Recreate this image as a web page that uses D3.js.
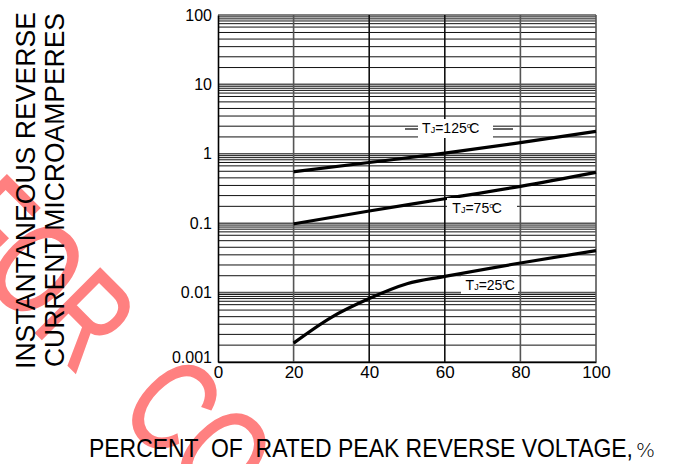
<!DOCTYPE html>
<html>
<head>
<meta charset="utf-8">
<script src="https://cdn.jsdelivr.net/npm/d3@7"></script>
<style>
  body { margin: 0; background: #fff; }
  svg { display: block; font-family: "Liberation Sans", Arial, sans-serif; }
</style>
</head>
<body>
<div id="chart"></div>
<script>
// percent of rated peak reverse voltage
var xTicks = [0, 20, 40, 60, 80, 100];
var yTicks = [0.001, 0.01, 0.1, 1, 10, 100];
var yTickLabels = ["0.001", "0.01", "0.1", "1", "10", "100"];
// the minor grid lines inside one decade (as drawn on the sheet)
var gridSteps = [1.75, 2.5, 3.5, 4.5, 5.6, 6.7, 7.5, 8.2, 8.8, 9.4];

var pct = [20, 40, 60, 80, 100];
var tj125 = [0.55, 0.75, 1.02, 1.45, 2.1];
var tj75 = [0.098, 0.15, 0.225, 0.34, 0.54];
var pct25 = [20, 30, 40, 50, 60, 80, 100];
var tj25 = [0.00187, 0.0044, 0.0082, 0.0134, 0.0171, 0.0267, 0.0403];

var width = 673, height = 464;

var svg = d3.select('#chart').append('svg')
    .attr('width', width)
    .attr('height', height);

svg.append('rect').attr('width', width).attr('height', height).attr('fill', '#fff');

var x = d3.scaleLinear().domain([0, 100]).range([218, 596]);
var y = d3.scaleLog().domain([0.001, 100]).range([362, 15]);

// watermark, sits under everything else (narrow letters, rotated)
svg.append('text')
    .attr('transform', 'translate(-63,234) rotate(45) scale(0.72,1)')
    .style('font-size', '132px')
    .style('fill', '#ff8080')
    .style('stroke', '#ff8080')
    .style('stroke-width', 2)
    .style('white-space', 'pre')
    .text('FOR  CO');

// grid
var grid = svg.append('g').attr('class', 'grid');
var hLines = [];
yTicks.forEach(function(d) {
    hLines.push({v: d, major: true});
    if (d < 100) {
        gridSteps.forEach(function(m) { hLines.push({v: d * m, major: false}); });
    }
});
grid.selectAll('line.h').data(hLines).enter().append('line')
    .attr('class', 'h')
    .attr('x1', x(0)).attr('x2', x(100))
    .attr('y1', function(d) { return y(d.v); })
    .attr('y2', function(d) { return y(d.v); })
    .style('stroke', function(d) { return d.major ? '#555' : '#111'; })
    .style('stroke-width', function(d) { return d.major ? 1.6 : 1; });

grid.selectAll('line.v').data(xTicks.slice(1)).enter().append('line')
    .attr('class', 'v')
    .attr('x1', function(d) { return x(d); })
    .attr('x2', function(d) { return x(d); })
    .attr('y1', y(100)).attr('y2', y(0.001))
    .style('stroke', function(d) { return (d == 40 || d == 60) ? '#111' : '#555'; })
    .style('stroke-width', 1.6);

// axes
var yAxis = d3.axisLeft(y)
    .tickValues(yTicks)
    .tickFormat(function(d, i) { return yTickLabels[i]; })
    .tickSize(0)
    .tickPadding(6);
var gy = svg.append('g').attr('transform', 'translate(' + x(0) + ',0)').call(yAxis);
gy.select('.domain').style('stroke', '#000').style('stroke-width', 1.6);
gy.selectAll('text')
    .style('font-size', '16px')
    .style('font-family', '"Liberation Sans", Arial, sans-serif')
    .style('fill', '#000')
    .attr('dy', function(d) { return d == 0.001 ? '0em' : '0.32em'; });

var xAxis = d3.axisBottom(x)
    .tickValues(xTicks)
    .tickSize(0)
    .tickPadding(4);
var gx = svg.append('g').attr('transform', 'translate(0,' + y(0.001) + ')').call(xAxis);
gx.select('.domain').style('stroke', '#000').style('stroke-width', 1.6);
gx.selectAll('text')
    .style('font-size', '17px')
    .style('font-family', '"Liberation Sans", Arial, sans-serif')
    .style('fill', '#000');

// curves
var line = d3.line()
    .x(function(d) { return x(d[0]); })
    .y(function(d) { return y(d[1]); })
    .curve(d3.curveMonotoneX);

var series = [
    d3.zip(pct, tj125),
    d3.zip(pct, tj75),
    d3.zip(pct25, tj25)
];
svg.selectAll('path.curve').data(series).enter().append('path')
    .attr('class', 'curve')
    .attr('d', line)
    .style('fill', 'none')
    .style('stroke', '#000')
    .style('stroke-width', 3.2)
    .style('stroke-linecap', 'butt');

// labels with white boxes behind them
var labels = [
    {t: '125', px: 54, py: 2.0, box: [418, 119, 75, 19]},
    {t: '75', px: 62, py: 0.14, box: [447, 198, 70, 19]},
    {t: '25', px: 65.5, py: 0.0109, box: [461, 276, 57, 18]}
];
var lab = svg.append('g');
labels.forEach(function(l) {
    lab.append('rect')
        .attr('x', l.box[0]).attr('y', l.box[1])
        .attr('width', l.box[2]).attr('height', l.box[3])
        .attr('fill', '#fff');
    var t = lab.append('text')
        .attr('x', x(l.px))
        .attr('y', y(l.py))
        .style('font-size', '14px')
        .style('fill', '#000');
    t.append('tspan').text('T');
    t.append('tspan').style('font-size', '9px').text('J');
    t.append('tspan').text('=' + l.t);
    t.append('tspan').style('font-size', '8px').attr('dy', -5).text('o');
    t.append('tspan').attr('dy', 5).attr('dx', -2).text('C');
});
// leader dashes next to the 125 label
lab.selectAll('line.lead').data([[405, 418], [493, 513]]).enter().append('line')
    .attr('x1', function(d) { return d[0]; })
    .attr('x2', function(d) { return d[1]; })
    .attr('y1', 129).attr('y2', 129)
    .style('stroke', '#000').style('stroke-width', 1.2);

// axis titles
var yTitle = ['INSTANTANEOUS REVERSE', 'CURRENT MICROAMPERES'];
svg.selectAll('text.ytitle').data(yTitle).enter().append('text')
    .attr('class', 'ytitle')
    .attr('transform', function(d, i) { return 'translate(' + (35 + i * 29) + ',' + (369 - i * 2) + ') rotate(-90)'; })
    .attr('textLength', function(d, i) { return i == 0 ? 357 : 354; })
    .attr('lengthAdjust', 'spacingAndGlyphs')
    .style('font-size', '28px')
    .style('fill', '#000')
    .text(function(d) { return d; });

var xt = svg.append('text')
    .attr('x', 89).attr('y', 457)
    .style('font-size', '26px')
    .style('fill', '#000')
    .style('white-space', 'pre');
xt.append('tspan')
    .attr('textLength', 544)
    .attr('lengthAdjust', 'spacingAndGlyphs')
    .text('PERCENT  OF  RATED PEAK REVERSE VOLTAGE,');
xt.append('tspan')
    .attr('dx', 3)
    .style('font-family', '"DejaVu Sans", sans-serif')
    .style('font-size', '20px')
    .style('font-weight', '200')
    .text('%');
</script>
</body>
</html>
